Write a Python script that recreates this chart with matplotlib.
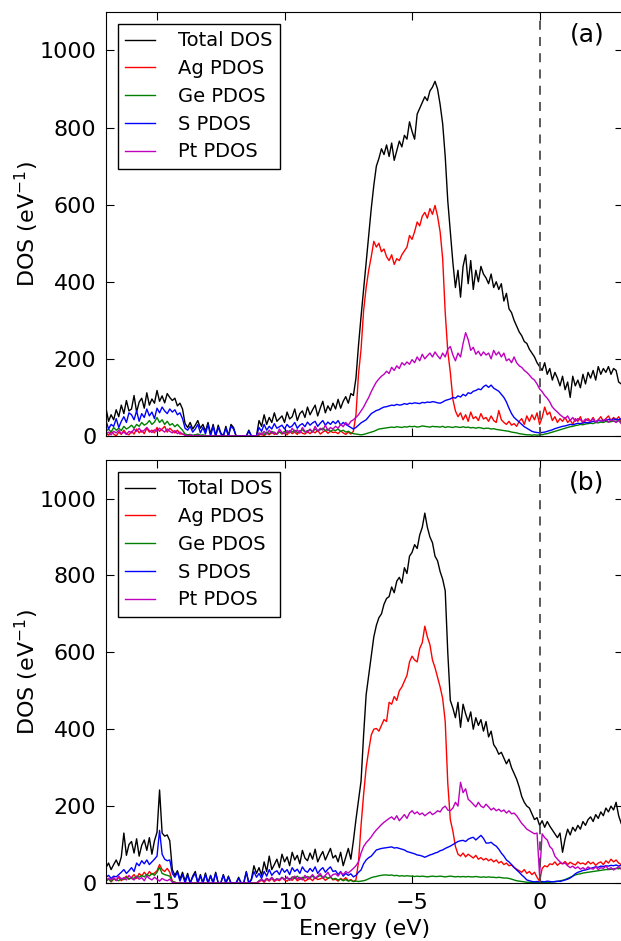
import numpy as np
import matplotlib
matplotlib.use('Agg')
import matplotlib.pyplot as plt

# energy grid: starts at -17 eV, 0.1 eV step
e_start = -17.0
e_step = 0.1

labels = ['Total DOS', 'Ag PDOS', 'Ge PDOS', 'S PDOS', 'Pt PDOS']
colors = ['k', 'r', 'g', 'b', 'm']

# ---- panel (a) ----
tot_a = [72, 38, 55, 42, 68, 50, 80, 58, 92, 65,
         70, 105, 62, 88, 98, 72, 112, 80, 96, 85,
         118, 90, 104, 86, 110, 100, 92, 98, 78, 85,
         70, 32, 22, 35, 18, 28, 40, 20, 30, 12,
         35, 5, 30, 0, 28, 8, 0, 25, 0, 30,
         22, 0, 0, 0, 0, 0, 15, 0, 0, 0,
         40, 25, 55, 30, 48, 35, 60, 38, 45, 52,
         35, 62, 44, 50, 70, 40, 58, 65, 48, 75,
         55, 68, 80, 52, 72, 90, 60, 78, 66, 85,
         70, 95, 72, 90, 102, 85, 110, 105, 150, 235,
         310, 380, 450, 520, 590, 650, 700, 720, 745, 730,
         755, 725, 760, 715, 740, 765, 750, 780, 770, 815,
         790, 770, 835, 850, 865, 880, 870, 895, 905, 920,
         900, 860, 810, 725, 610, 530, 450, 385, 430, 360,
         440, 470, 395, 455, 380, 430, 400, 440, 420, 410,
         395, 420, 385, 400, 380, 395, 350, 370, 330, 320,
         300, 285, 270, 260, 245, 240, 225, 215, 205, 190,
         180, 170, 190, 160, 175, 145, 165, 150, 130, 155,
         120, 140, 100, 155, 130, 145, 125, 160, 135, 165,
         150, 170, 145, 180, 160, 175, 165, 180, 160, 175,
         170, 140, 135]
ag_a = [8, 2, 12, 5, 0, 10, 4, 15, 6, 3,
        12, 5, 18, 8, 14, 6, 20, 10, 15, 8,
        22, 12, 18, 25, 10, 20, 14, 8, 15, 5,
        6, 2, 0, 3, 0, 2, 0, 0, 0, 0,
        0, 0, 0, 0, 0, 0, 0, 0, 0, 0,
        0, 0, 0, 0, 0, 0, 0, 0, 0, 0,
        2, 5, 0, 8, 3, 10, 4, 6, 12, 5,
        8, 3, 12, 6, 10, 4, 14, 7, 5, 11,
        6, 12, 8, 15, 5, 10, 14, 7, 12, 9,
        10, 6, 13, 8, 4, 10, 5, 12, 55, 160,
        225, 325, 385, 430, 465, 505, 490, 500, 478, 485,
        465, 455, 470, 445, 460, 455, 470, 480, 490, 520,
        510, 530, 555, 545, 570, 580, 565, 590, 575, 598,
        570, 530, 460, 320, 220, 165, 95, 65, 50, 60,
        42, 55, 38, 62, 45, 50, 40, 58, 44, 48,
        38, 52, 40, 35, 66, 42, 35, 30, 38, 28,
        32, 25, 38, 45, 30, 52, 38, 55, 42, 60,
        30, 48, 75, 55, 62, 40, 50, 35, 45, 38,
        48, 35, 42, 30, 45, 38, 50, 33, 40, 45,
        38, 48, 35, 42, 50, 38, 45, 52, 40, 48,
        42, 50, 38]
ge_a = [12, 18, 10, 22, 15, 20, 14, 25, 18, 22,
        28, 20, 30, 25, 35, 28, 32, 40, 30, 36,
        48, 35, 42, 30, 38, 28, 32, 24, 30, 22,
        15, 5, 3, 4, 2, 3, 5, 2, 3, 1,
        0, 0, 0, 0, 0, 0, 0, 0, 0, 0,
        0, 0, 0, 0, 0, 0, 0, 0, 0, 0,
        5, 8, 4, 10, 6, 12, 8, 5, 10, 7,
        12, 8, 14, 10, 15, 9, 12, 16, 10, 14,
        15, 11, 18, 13, 16, 20, 14, 18, 12, 16,
        14, 18, 12, 15, 10, 12, 8, 6, 5, 4,
        3, 4, 6, 8, 10, 12, 15, 18, 19, 20,
        21, 22, 23, 22, 24, 23, 22, 24, 23, 25,
        24, 25, 23, 24, 26, 25, 24, 23, 25, 24,
        24, 23, 25, 22, 24, 23, 22, 24, 23, 22,
        24, 22, 23, 21, 22, 20, 22, 21, 19, 20,
        20, 18, 19, 17, 16, 15, 14, 13, 12, 10,
        9, 8, 6, 5, 4, 3, 3, 2, 3, 2,
        3, 3, 5, 6, 8, 10, 12, 14, 16, 18,
        20, 22, 24, 25, 27, 28, 30, 29, 31, 32,
        33, 32, 35, 34, 36, 35, 38, 36, 37, 39,
        38, 40, 37]
s_a = [40, 18, 30, 25, 45, 22, 38, 50, 35, 60,
       55, 42, 65, 38, 58, 48, 70, 52, 62, 45,
       72, 60, 75, 65, 58, 70, 62, 68, 55, 60,
       45, 20, 15, 25, 10, 18, 30, 8, 22, 5,
       30, 0, 25, 0, 22, 5, 0, 20, 0, 25,
       18, 0, 0, 0, 0, 0, 12, 0, 0, 0,
       22, 12, 30, 15, 25, 18, 32, 20, 24, 28,
       18, 30, 22, 26, 35, 20, 28, 32, 24, 36,
       28, 34, 38, 25, 33, 40, 28, 36, 30, 38,
       32, 40, 28, 35, 30, 26, 22, 18, 22, 28,
       34, 38, 42, 50, 58, 62, 66, 68, 72, 75,
       76, 78, 80, 79, 82, 80, 81, 84, 82, 85,
       84, 86, 85, 84, 87, 86, 88, 87, 89, 88,
       86, 85, 88, 92, 94, 96, 100, 98, 104, 101,
       108, 104, 112, 110, 116, 118, 122, 120, 128, 132,
       126, 132, 124, 120, 116, 108, 100, 88, 72, 58,
       48, 42, 36, 30, 24, 20, 16, 12, 10, 9,
       8, 9, 10, 12, 14, 16, 19, 21, 23, 25,
       26, 28, 30, 29, 31, 33, 32, 34, 35, 34,
       36, 38, 37, 40, 39, 41, 40, 43, 42, 44,
       43, 42, 45]
pt_a = [5, 10, 3, 12, 8, 15, 6, 10, 4, 12,
        8, 18, 12, 20, 10, 15, 22, 14, 9, 16,
        12, 20, 15, 10, 18, 12, 8, 14, 6, 10,
        5, 2, 0, 3, 0, 0, 2, 0, 0, 0,
        0, 0, 0, 0, 0, 0, 0, 0, 0, 0,
        0, 0, 0, 0, 0, 0, 0, 0, 0, 0,
        8, 3, 12, 5, 15, 7, 10, 4, 18, 9,
        6, 14, 8, 20, 10, 16, 7, 22, 12, 9,
        18, 10, 25, 12, 20, 15, 28, 14, 22, 18,
        25, 20, 30, 24, 35, 28, 38, 42, 48, 55,
        65, 75, 88, 100, 115, 128, 140, 148, 155, 160,
        168, 162, 178, 170, 182, 175, 190, 184, 192, 186,
        198, 190, 205, 195, 212, 200, 208, 215, 205, 218,
        208, 200, 215, 205, 225, 232, 210, 195, 215, 205,
        240, 268, 250, 222, 230, 212, 220, 208, 218, 210,
        215, 200, 222, 210, 218, 205, 215, 195, 200, 190,
        205, 190, 182, 178, 170, 165, 158, 150, 145, 135,
        122, 115, 105, 98, 88, 75, 68, 62, 55, 50,
        45, 52, 40, 48, 38, 45, 42, 36, 44, 40,
        38, 45, 35, 42, 40, 38, 44, 36, 42, 39,
        35, 40, 32]

# ---- panel (b) ----
tot_b = [40, 52, 35, 48, 60, 45, 68, 130, 72, 100,
         108, 78, 115, 70, 98, 112, 85, 118, 75, 110,
         132, 242, 130, 122, 125, 110, 35, 20, 32, 10,
         28, 5, 25, 0, 18, 30, 0, 22, 0, 26,
         0, 20, 0, 28, 0, 0, 22, 0, 18, 0,
         0, 0, 15, 0, 0, 30, 0, 10, 45, 25,
         40, 20, 55, 30, 70, 35, 48, 62, 40, 75,
         55, 68, 45, 80, 60, 72, 50, 85, 65, 58,
         78, 62, 88, 55, 70, 82, 60, 75, 90, 65,
         72, 55, 80, 45, 68, 90, 62, 110, 165, 215,
         265, 385, 490, 540, 590, 640, 670, 690, 700, 725,
         740, 745, 770, 755, 785, 795, 780, 820, 805, 850,
         860, 880, 870, 905, 925, 962, 925, 900, 885, 850,
         838, 810, 790, 760, 600, 475, 455, 430, 470, 405,
         465, 440, 420, 445, 400, 430, 410, 425, 395, 420,
         380, 395, 360, 350, 335, 340, 325, 310, 322, 300,
         285, 270, 250, 225, 210, 200, 195, 180, 165, 170,
         150, 162, 145, 160, 148, 138, 128, 118, 130, 80,
         115, 140, 125, 145, 135, 150, 140, 160, 150, 165,
         172, 160, 178, 168, 185, 175, 195, 185, 200, 190,
         210, 175, 155]
ag_b = [5, 12, 3, 10, 8, 15, 6, 12, 18, 10,
        15, 22, 12, 25, 18, 28, 20, 30, 22, 26,
        32, 48, 35, 30, 38, 28, 5, 2, 0, 0,
        0, 0, 0, 0, 0, 0, 0, 0, 0, 0,
        0, 0, 0, 0, 0, 0, 0, 0, 0, 0,
        0, 0, 0, 0, 0, 0, 0, 0, 0, 0,
        3, 8, 2, 10, 5, 12, 4, 9, 6, 14,
        8, 5, 12, 7, 15, 6, 10, 13, 5, 9,
        12, 6, 15, 9, 11, 14, 7, 12, 16, 8,
        10, 5, 12, 8, 14, 6, 9, 4, 8, 55,
        150, 230, 300, 345, 385, 400, 402, 395, 410, 425,
        420, 470, 465, 485, 475, 500, 510, 525, 540, 575,
        590, 580, 575, 610, 625, 668, 640, 620, 580, 560,
        535, 510, 480, 420, 260, 165, 135, 95, 75, 70,
        78, 68, 75, 70, 65, 72, 62, 66, 60, 64,
        58, 62, 55, 60, 52, 56, 48, 52, 45, 47,
        40, 36, 32, 28, 35, 25, 30, 22, 28, 15,
        5, 38, 45, 42, 50, 48, 55, 46, 52, 50,
        56, 48, 54, 50, 47, 55, 50, 52, 48, 56,
        50, 54, 46, 52, 55, 48, 58, 52, 62, 55,
        60, 52, 48]
ge_b = [5, 10, 4, 12, 8, 6, 12, 9, 15, 10,
        14, 12, 18, 15, 20, 16, 22, 18, 25, 20,
        28, 41, 25, 22, 20, 18, 4, 2, 0, 0,
        0, 0, 0, 0, 0, 0, 0, 0, 0, 0,
        0, 0, 0, 0, 0, 0, 0, 0, 0, 0,
        0, 0, 0, 0, 0, 0, 0, 0, 0, 0,
        6, 10, 5, 12, 8, 14, 7, 11, 9, 15,
        10, 14, 8, 16, 12, 18, 10, 15, 13, 17,
        14, 18, 12, 16, 20, 14, 17, 12, 15, 10,
        12, 8, 10, 6, 9, 5, 7, 4, 5, 4,
        5, 6, 8, 11, 14, 16, 17, 19, 20, 21,
        21, 20, 21, 19, 20, 18, 19, 18, 19, 18,
        18, 17, 18, 17, 18, 17, 16, 17, 18, 17,
        17, 18, 17, 16, 17, 18, 17, 16, 17, 16,
        17, 16, 17, 16, 16, 17, 16, 15, 16, 15,
        16, 15, 15, 14, 15, 14, 13, 13, 12, 10,
        8, 6, 5, 4, 3, 2, 2, 1, 2, 1,
        1, 2, 1, 2, 2, 3, 3, 4, 6, 7,
        9, 12, 15, 18, 21, 23, 24, 26, 27, 28,
        29, 30, 31, 32, 33, 34, 35, 35, 36, 37,
        38, 37, 39]
s_b = [15, 20, 12, 18, 16, 22, 28, 35, 25, 32,
       40, 30, 52, 45, 58, 50, 60, 48, 55, 62,
       70, 137, 75, 62, 58, 60, 25, 15, 28, 5,
       22, 0, 20, 0, 15, 25, 0, 18, 0, 22,
       0, 18, 0, 25, 0, 0, 20, 0, 15, 0,
       0, 0, 12, 0, 0, 28, 0, 8, 30, 15,
       25, 12, 30, 18, 35, 20, 28, 32, 22, 38,
       28, 35, 22, 40, 30, 36, 25, 42, 32, 28,
       38, 30, 42, 25, 34, 40, 28, 36, 42, 30,
       32, 22, 30, 18, 25, 20, 24, 16, 20, 28,
       34, 50, 60, 66, 70, 78, 86, 88, 90, 91,
       92, 93, 94, 91, 92, 90, 88, 86, 82, 80,
       78, 76, 73, 72, 70, 67, 70, 73, 75, 78,
       80, 84, 86, 90, 93, 96, 100, 104, 108, 110,
       111, 108, 114, 117, 119, 112, 118, 124, 116, 104,
       104, 106, 100, 96, 88, 78, 70, 60, 55, 48,
       41, 34, 28, 21, 15, 8, 6, 4, 3, 4,
       3, 4, 3, 5, 4, 3, 4, 5, 4, 6,
       8, 10, 13, 18, 24, 28, 30, 33, 34, 36,
       38, 40, 42, 41, 44, 43, 45, 44, 46, 45,
       47, 44, 46]
pt_b = [5, 12, 8, 15, 6, 18, 10, 14, 8, 20,
        12, 8, 16, 10, 14, 6, 18, 12, 8, 15,
        10, 5, 12, 8, 6, 10, 2, 0, 0, 0,
        0, 0, 0, 0, 0, 0, 0, 0, 0, 0,
        0, 0, 0, 0, 0, 0, 0, 0, 0, 0,
        0, 0, 0, 0, 0, 0, 0, 0, 0, 0,
        5, 10, 4, 12, 7, 15, 6, 11, 8, 14,
        9, 16, 7, 13, 18, 10, 15, 8, 20, 12,
        15, 22, 12, 18, 25, 14, 20, 28, 16, 22,
        24, 18, 28, 22, 30, 26, 32, 38, 45, 55,
        78, 95, 105, 112, 120, 130, 138, 145, 152, 158,
        163, 168, 172, 165, 175, 162, 170, 178, 168, 182,
        188, 180, 185, 178, 182, 175, 180, 185, 178, 182,
        188, 185, 195, 200, 190, 188, 195, 210, 200, 262,
        235, 245, 218, 212, 205, 198, 210, 200, 196, 205,
        198, 190, 195, 188, 192, 186, 190, 182, 188, 180,
        182, 175, 165, 155, 148, 140, 136, 132, 128, 130,
        20, 128, 118, 112, 95, 88, 70, 62, 55, 50,
        52, 45, 40, 44, 38, 42, 36, 40, 35, 42,
        38, 36, 42, 35, 40, 38, 44, 36, 40, 34,
        38, 42, 36]

panels = [('(a)', [tot_a, ag_a, ge_a, s_a, pt_a]),
          ('(b)', [tot_b, ag_b, ge_b, s_b, pt_b])]


def energies(vals):
    return e_start + e_step * np.arange(len(vals))


fig = plt.figure(figsize=(6.21, 9.41), dpi=100)
ax_a = fig.add_axes([0.1707, 0.5367, 0.8325, 0.4506])
ax_b = fig.add_axes([0.1707, 0.0616, 0.8325, 0.4495])

for ax, (tag, series) in zip([ax_a, ax_b], panels):
    for vals, lab, col in zip(series, labels, colors):
        ax.plot(energies(vals), vals, color=col, lw=1.0, label=lab)
    ax.axvline(0, color='0.3', ls='--', lw=1.3, dashes=(5, 4))
    ax.set_xlim(-17, 3.27)
    ax.set_ylim(0, 1100)
    ax.set_xticks([-15, -10, -5, 0])
    ax.set_yticks([0, 200, 400, 600, 800, 1000])
    ax.tick_params(direction='in', top=True, right=True, length=6,
                   labelsize=16, pad=7)
    ax.set_ylabel(r'DOS (eV$^{-1}$)', fontsize=16)
    ax.yaxis.set_label_coords(-0.125, 0.5)
    leg = ax.legend(loc='upper left', fontsize=14, fancybox=False,
                    edgecolor='k', framealpha=1, handlelength=1.5,
                    handletextpad=1.2, labelspacing=0.45,
                    borderaxespad=0.6)
    leg.get_frame().set_linewidth(1.0)
    ax.text(0.93, 0.946, tag, transform=ax.transAxes, fontsize=18,
            ha='center', va='center')

ax_a.tick_params(labelbottom=False)
ax_b.set_xlabel('Energy (eV)', fontsize=16)
ax_b.xaxis.set_label_coords(0.5, -0.085)

fig.savefig('out.png', dpi=100)
